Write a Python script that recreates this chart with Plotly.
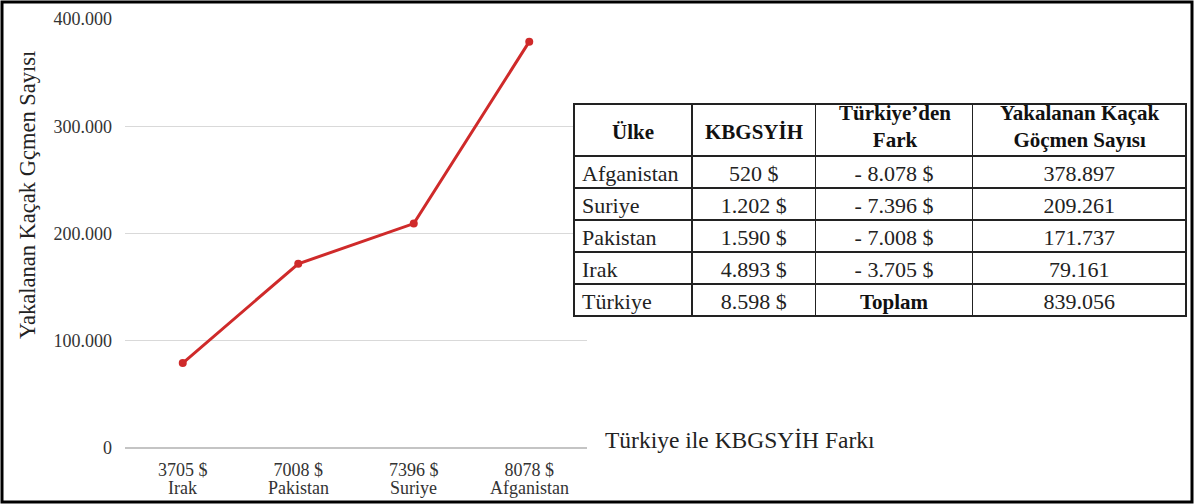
import plotly.graph_objects as go

# ---- chart data ----
gdp_gap = ["3705 $", "7008 $", "7396 $", "8078 $"]
countries = ["Irak", "Pakistan", "Suriye", "Afganistan"]
migrants = [79161, 171737, 209261, 378897]

y_tickvals = [0, 100000, 200000, 300000, 400000]
y_ticktext = ["0", "100.000", "200.000", "300.000", "400.000"]

# ---- table data ----
tbl_header = ["<b>Ülke</b>", "<b>KBGSYİH</b>", "<b>Türkiye’den<br>Fark</b>",
              "<b>Yakalanan Kaçak<br>Göçmen Sayısı</b>"]
tbl_country = ["Afganistan", "Suriye", "Pakistan", "Irak", "Türkiye"]
tbl_gdp = ["520 $", "1.202 $", "1.590 $", "4.893 $", "8.598 $"]
tbl_diff = ["- 8.078 $", "- 7.396 $", "- 7.008 $", "- 3.705 $", "Toplam"]
tbl_count = ["378.897", "209.261", "171.737", "79.161", "839.056"]

SERIF = "Liberation Serif, Times New Roman, serif"
RED = "#cf2a2a"

W, H = 1194, 504
ML, MR, MT, MB = 125, 7, 19, 56
PW = W - ML - MR
PH = H - MT - MB


def px_x(x):
    return (x - ML) / PW


def px_y(y):
    return (H - MB - y) / PH


# table geometry (pixels)
col_edges = [574, 692, 816, 973, 1187]
tbl_top, hdr_h, row_h = 104, 52, 32
tbl_bottom = tbl_top + hdr_h + row_h * len(tbl_country)

fig = go.Figure()

fig.add_trace(go.Scatter(
    x=gdp_gap, y=migrants, mode="lines+markers",
    line=dict(color=RED, width=3),
    marker=dict(color=RED, size=8),
    showlegend=False, hoverinfo="skip",
))

# the bold "Toplam" label is drawn on top of its (blank) cell so the row
# keeps the same height as the others
diff_cells = tbl_diff[:-1] + [""]

fig.add_trace(go.Table(
    domain=dict(x=[px_x(col_edges[0]), 1.0],
                y=[px_y(tbl_bottom + 14), px_y(tbl_top)]),
    columnwidth=[col_edges[i + 1] - col_edges[i] for i in range(4)],
    header=dict(
        values=[""] * 4,
        height=hdr_h,
        font=dict(family=SERIF, size=12, color="#111"),
        fill_color="white",
        line=dict(color="#222", width=1.5),
    ),
    cells=dict(
        values=[tbl_country, tbl_gdp, diff_cells, tbl_count],
        align=["left", "center", "center", "center"],
        height=row_h,
        font=dict(family=SERIF, size=22, color="#222"),
        fill_color="white",
        line=dict(color="#222", width=1.5),
    ),
))

annotations = []
for i, htxt in enumerate(tbl_header):
    two = "<br>" in htxt
    annotations.append(dict(
        x=px_x((col_edges[i] + col_edges[i + 1]) / 2), xref="paper",
        y=px_y(tbl_top + (hdr_h / 2 - (4 if two else -2))), yref="paper",
        text=htxt, showarrow=False, align="center",
        xanchor="center", yanchor="middle",
        font=dict(family=SERIF, size=21, color="#111"),
    ))

annotations.append(dict(
    x=px_x((col_edges[2] + col_edges[3]) / 2), xref="paper",
    y=px_y(tbl_top + hdr_h + 4.5 * row_h + 2), yref="paper",
    text="<b>" + tbl_diff[-1] + "</b>", showarrow=False,
    xanchor="center", yanchor="middle",
    font=dict(family=SERIF, size=21, color="#111"),
))

for c, name in zip(gdp_gap, countries):
    annotations.append(dict(
        x=c, xref="x", y=0, yref="y", text=name, showarrow=False,
        yanchor="top", yshift=-28,
        font=dict(family=SERIF, size=18, color="#333"),
    ))

annotations.append(dict(
    x=px_x(27), xref="paper", y=px_y(195), yref="paper",
    text="Yakalanan Kaçak Gçmen Sayısı", textangle=-90, showarrow=False,
    xanchor="center", yanchor="middle",
    font=dict(family=SERIF, size=22.5, color="#222"),
))
annotations.append(dict(
    x=px_x(603), xref="paper", y=px_y(440), yref="paper",
    text="Türkiye ile KBGSYİH Farkı", showarrow=False,
    xanchor="left", yanchor="middle",
    font=dict(family=SERIF, size=23.5, color="#222"),
))

fig.update_layout(
    width=W, height=H,
    margin=dict(l=ML, r=MR, t=MT, b=MB, autoexpand=False),
    paper_bgcolor="white", plot_bgcolor="white",
    xaxis=dict(
        domain=[0, px_x(587)], type="category", range=[-0.5, 3.5],
        showgrid=False, zeroline=False, showline=False, ticks="",
        ticklabelstandoff=9,
        tickfont=dict(family=SERIF, size=18, color="#333"),
    ),
    yaxis=dict(
        range=[0, 400000], tickvals=y_tickvals, ticktext=y_ticktext,
        showgrid=True, gridcolor="#d9d9d9", gridwidth=1,
        zeroline=True, zerolinecolor="#c4c4c4", zerolinewidth=1.5,
        showline=False, ticks="", ticklabelstandoff=12,
        tickfont=dict(family=SERIF, size=18, color="#333"),
    ),
    annotations=annotations,
    shapes=[dict(
        type="rect", xref="paper", yref="paper",
        x0=px_x(2), x1=px_x(1192), y0=px_y(502), y1=px_y(2),
        line=dict(color="black", width=3), fillcolor="rgba(0,0,0,0)",
    )],
)

fig.write_html("out.html",
               config={"displayModeBar": False},
               post_script="document.body.style.margin='0px';"
                           "document.body.style.overflow='hidden';")
